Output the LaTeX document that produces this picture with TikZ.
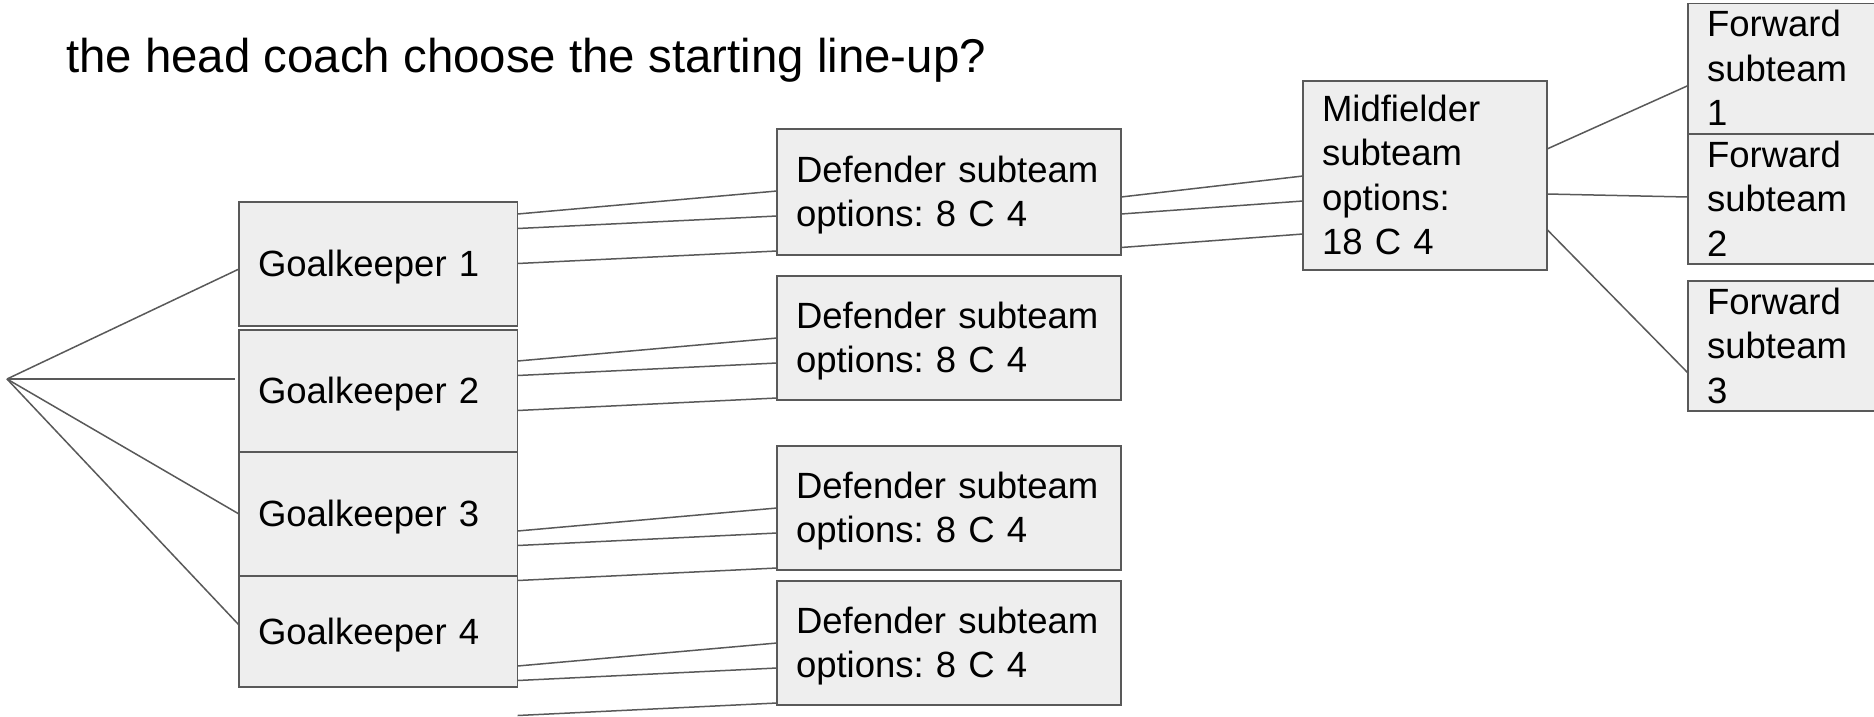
\documentclass[tikz,border=0pt]{standalone}
\usepackage{fontspec}
\setmainfont{Liberation Sans}
\usetikzlibrary{calc}
\definecolor{boxfill}{HTML}{EEEEEE}
\definecolor{edge}{HTML}{595959}
% line strut: full ascent and descent of the font
\newcommand\lstrut{\rule[-0.212em]{0pt}{1.117em}}
\frenchspacing

\begin{document}
\begin{tikzpicture}[x=1pt,y=-1pt,
  box/.style={draw=edge, fill=boxfill, line width=1.5pt, anchor=north west,
    inner xsep=19pt, inner ysep=0pt, outer sep=0pt, align=left,
    font=\fontsize{36.5}{44.5}\selectfont},
  link/.style={draw=edge, line width=1.5pt}]
\clip (0,0) rectangle (1874,716);
\fill[white] (0,0) rectangle (1874,716);

% heading
\node[anchor=base west, inner sep=0pt, font=\fontsize{47.4}{56}\selectfont] (title)
  at (66,72) {the head coach choose the starting line-up?};

% goalkeepers
\node[box, text width=240.6pt, minimum height=124pt] (g1) at (239,202) {\lstrut Goalkeeper 1};
\node[box, text width=240.6pt, minimum height=122pt] (g2) at (239,330) {\lstrut Goalkeeper 2};
\node[box, text width=240.6pt, minimum height=124pt] (g3) at (239,452) {\lstrut Goalkeeper 3};
\node[box, text width=240.6pt, minimum height=111pt] (g4) at (239,576) {\lstrut Goalkeeper 4};

% defender subteams
\node[box, text width=306pt, minimum height=126pt] (d1) at (777,129) {\lstrut Defender subteam\\\lstrut options: 8 C 4};
\node[box, text width=306pt, minimum height=124pt] (d2) at (777,276) {\lstrut Defender subteam\\\lstrut options: 8 C 4};
\node[box, text width=306pt, minimum height=124pt] (d3) at (777,446) {\lstrut Defender subteam\\\lstrut options: 8 C 4};
\node[box, text width=306pt, minimum height=124pt] (d4) at (777,581) {\lstrut Defender subteam\\\lstrut options: 8 C 4};

% midfielder subteam
\node[box, text width=206pt, minimum height=189pt] (m) at (1303,81)
  {\lstrut Midfielder\\\lstrut subteam\\\lstrut options:\\\lstrut 18 C 4};

% forward subteams
\node[box, text width=212pt, minimum height=125pt] (f1) at (1688,3.6) {\lstrut Forward\\\lstrut subteam\\\lstrut 1};
\node[box, text width=212pt, minimum height=124pt] (f2) at (1688,134) {\lstrut Forward\\\lstrut subteam\\\lstrut 2};
\node[box, text width=212pt, minimum height=125pt] (f3) at (1688,281) {\lstrut Forward\\\lstrut subteam\\\lstrut 3};

% root of the tree
\coordinate (root) at (7,379);
\draw[link] (root) -- ($(g1.north west)+(0,67)$);
\draw[link] (root) -- ($(g2.north west)+(-4,49)$);
\draw[link] (root) -- (g3.west);
\draw[link] (root) -- ($(g4.north west)+(0,49)$);

% goalkeeper -> defender options
\foreach \d in {d1,d2,d3,d4}{
  \draw[link] ($(\d.north west)+(-259.4,85)$) -- ($(\d.north west)+(0,62)$);
  \draw[link] ($(\d.north west)+(-259.4,99.5)$) -- ($(\d.north west)+(0,87)$);
  \draw[link] ($(\d.north west)+(-259.4,134.5)$) -- ($(\d.north west)+(0,122)$);
}

% defender -> midfielder options
\draw[link] ($(d1.north east)+(0,68)$) -- ($(m.north west)+(0,95)$);
\draw[link] ($(d1.north east)+(0,85)$) -- ($(m.north west)+(0,120)$);
\draw[link] ($(d1.north east)+(0,118.5)$) -- ($(m.north west)+(0,153)$);

% midfielder -> forward options
\draw[link] ($(m.north east)+(0,68)$) -- ($(f1.north west)+(0,82)$);
\draw[link] ($(m.north east)+(0,113)$) -- ($(f2.north west)+(0,63)$);
\draw[link] ($(m.north east)+(0,148.5)$) -- ($(f3.north west)+(0,92)$);
\end{tikzpicture}
\end{document}
